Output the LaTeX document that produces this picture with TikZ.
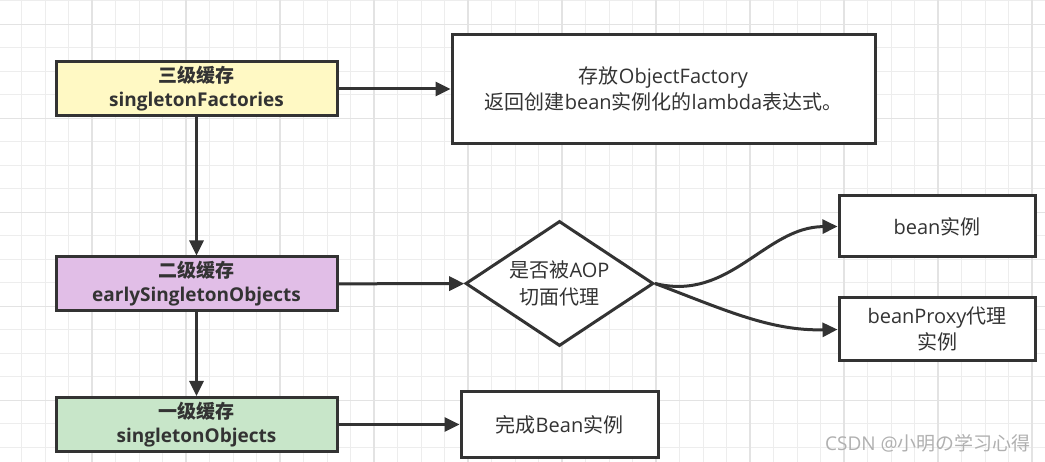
\documentclass[tikz,border=0pt]{standalone}
\usepackage{fontspec}
\setmainfont{Open Sans}
\newfontfamily\cjk{Noto Sans CJK SC}
\newcommand\zh[1]{{\cjk #1}}
\usetikzlibrary{arrows.meta,shapes.geometric}
\definecolor{ink}{HTML}{333333}
\definecolor{gridminor}{HTML}{EDEDED}
\definecolor{gridmajor}{HTML}{E3E3E3}
\definecolor{yel}{HTML}{FFF9C4}
\definecolor{pur}{HTML}{E1BEE7}
\definecolor{grn}{HTML}{C8E6C9}
\definecolor{wm}{HTML}{B0B0B0}
\tikzset{
  cache/.style={draw=ink, line width=3pt, rectangle, minimum width=281pt, minimum height=54pt,
    inner sep=0pt, align=center, text=ink, font=\fontsize{19}{24}\selectfont\bfseries},
  plainbox/.style={draw=ink, line width=3pt, rectangle, fill=white, inner sep=0pt,
    align=center, text=ink, font=\fontsize{20}{26}\selectfont},
  decision/.style={draw=ink, line width=3pt, diamond, fill=white, aspect=1.5, inner sep=0pt,
    minimum width=188pt, minimum height=125pt, align=center, text=ink, font=\fontsize{20}{27}\selectfont},
  arr/.style={draw=ink, line width=3pt, -{Triangle[length=15pt,width=14pt]}},
  minorline/.style={draw=gridminor, line width=1pt},
  majorline/.style={draw=gridmajor, line width=1.5pt},
}
\begin{document}
\begin{tikzpicture}[x=1pt,y=-1pt]
\useasboundingbox (0,0) rectangle (1045,462);
\fill[white] (0,0) rectangle (1045,462);
% grid
\foreach \i in {0,...,45} \draw[minorline] ({-2+23.5*\i},0) -- ++(0,462);
\foreach \j in {0,...,20} \draw[minorline] (0,{1+23.5*\j}) -- ++(1045,0);
\foreach \i in {0,...,11} \draw[majorline] ({-2+94*\i},0) -- ++(0,462);
\foreach \j in {0,...,5} \draw[majorline] (0,{24.5+94*\j}) -- ++(1045,0);

% caches
\node[cache, fill=yel] (l3) at (196.5,89) {\zh{三级缓存}\\singletonFactories};
\node[cache, fill=pur] (l2) at (196.5,284) {\zh{二级缓存}\\earlySingletonObjects};
\node[cache, fill=grn] (l1) at (196.5,424.5) {\zh{一级缓存}\\singletonObjects};

% right side
\node[plainbox, minimum width=423pt, minimum height=109pt] (info) at (663.5,89)
  {\zh{存放}ObjectFactory\\\zh{返回创建}bean\zh{实例化的}lambda\zh{表达式。}};
\node[decision] (dia) at (559.5,283.5) {\zh{是否被}AOP\\\zh{切面代理}};
\node[plainbox, minimum width=196pt, minimum height=61pt] (bean) at (937,226.5) {bean\zh{实例}};
\node[plainbox, minimum width=196pt, minimum height=63pt] (proxy) at (937,329.5) {beanProxy\zh{代理}\\\zh{实例}};
\node[plainbox, minimum width=197pt, minimum height=65pt] (done) at (559.5,424.5) {\zh{完成}Bean\zh{实例}};

% connectors
\draw[arr] (l3) -- (info);
\draw[arr] (l3) -- (l2);
\draw[arr] (l2) -- (dia);
\draw[arr] (l2) -- (l1);
\draw[arr] (l1) -- (done);
\draw[arr] (dia.east) .. controls (730,302) and (765,227) .. (bean.west);
\draw[arr] (dia.east) .. controls (725,310) and (770,331) .. (proxy.west);

% watermark
\node[text=wm, font=\fontsize{19}{22}\selectfont, anchor=east, inner sep=0pt] (wmark) at (1031,443) {CSDN @\zh{小明の学习心得}};
\end{tikzpicture}
\end{document}
